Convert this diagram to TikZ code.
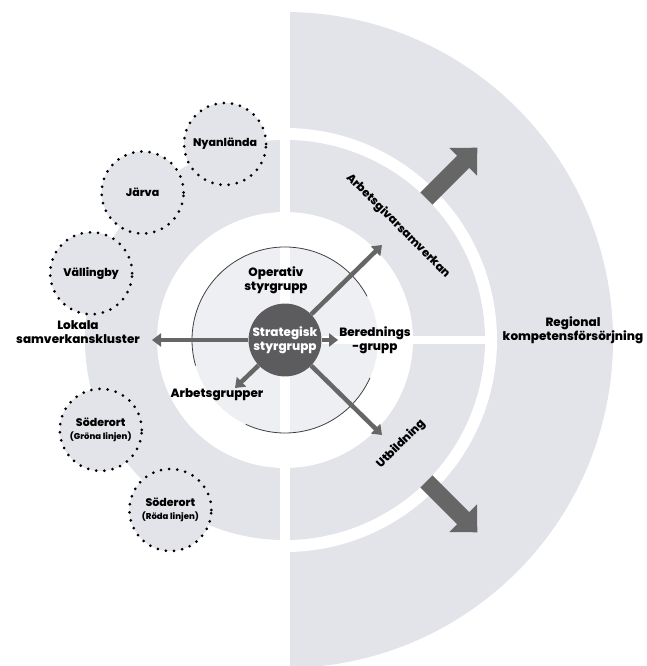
\documentclass[tikz,border=0pt]{standalone}
\usepackage{fontspec}
\setmainfont{Poppins}[BoldFont={Poppins ExtraBold}]
\usetikzlibrary{arrows.meta}
\definecolor{ringgrey}{RGB}{226,228,233}
\definecolor{arrowgrey}{RGB}{102,102,102}
\definecolor{coregrey}{RGB}{92,92,94}

\begin{document}
\begin{tikzpicture}[x=1pt, y=1pt,
	lbl/.style={font=\bfseries\fontsize{12}{14}\selectfont, align=center, inner sep=1pt},
	ringlbl/.style={font=\bfseries\fontsize{11.5}{13}\selectfont, inner sep=0pt},
	cluster/.style={circle, minimum size=82pt, inner sep=0pt, fill=ringgrey, draw=black, line width=3pt, dash pattern=on 0pt off 8.2pt, line cap=round, font=\bfseries\fontsize{11}{12.5}\selectfont, align=center},
	arcline/.style={draw=black!75, line width=0.8pt},
	thinarrow/.style={arrowgrey, line width=4.5pt, -{Triangle[width=13pt, length=9pt]}},
	bigarrow/.style={arrowgrey, line width=17pt, -{Triangle[width=38pt, length=20pt]}}]
	\useasboundingbox (0,0) rectangle (647,666);
	\coordinate (O) at (285,326);
	\fill[ringgrey] (285,654) arc[start angle=90, end angle=-90, radius=328] -- cycle;
	\fill[white] (O) circle[radius=212];
	\fill[ringgrey] (O) circle[radius=200];
	\fill[white] (O) circle[radius=128];
	\fill[ringgrey!60] (O) circle[radius=93];
	\fill[white] (280,0) rectangle (290,666);
	\fill[white] (290,322) rectangle (490,330);
	\draw[arcline] ([shift={(28:93)}]O) arc[start angle=28, end angle=196, radius=93];
	\draw[arcline] ([shift={(245:93)}]O) arc[start angle=245, end angle=336, radius=93];
	\node[lbl, circle, fill=coregrey, minimum size=70pt, text=white] (strat) at (O) {Strategisk\\styrgrupp};
	\node[lbl] (oper) at (276,386) {Operativ\\styrgrupp};
	\node[lbl] (bered) at (375,326) {Berednings\\-grupp};
	\node[lbl] (arbgr) at (217,271) {Arbetsgrupper};
	\node[lbl] (lokala) at (78,334) {Lokala\\samverkanskluster};
	\node[lbl] (regional) at (573,336) {Regional\\kompetensförsörjning};
	\node[ringlbl, rotate=-45] (arbsam) at (398,440) {Arbetsgivarsamverkan};
	\node[ringlbl, rotate=45] (utb) at (401,222) {Utbildning};
	\node[cluster] (nyanl) at ([shift={(107:205)}]O) {Nyanlända};
	\node[cluster] (jarva) at ([shift={(134:205)}]O) {Järva};
	\node[cluster] (vallby) at ([shift={(161:205)}]O) {Vällingby};
	\node[cluster] (sodgron) at ([shift={(206:205)}]O) {Söderort\\{\fontsize{8.5}{10}\selectfont(Gröna linjen)}};
	\node[cluster] (sodrod) at ([shift={(236:205)}]O) {Söderort\\{\fontsize{8.5}{10}\selectfont(Röda linjen)}};
	\coordinate (lokalatip) at (152,326);
	\coordinate (armtip) at (382,421);
	\coordinate (utbtip) at (382,231);
	\coordinate (grptip) at (235,278);
	\draw[thinarrow] (strat) -- (lokalatip);
	\draw[thinarrow] (strat.east) -- (bered.west);
	\draw[thinarrow] (strat) -- (armtip);
	\draw[thinarrow] (strat) -- (utbtip);
	\draw[thinarrow] (strat) -- (grptip);
	\coordinate (armfrom) at ([shift={(45:200)}]O);
	\coordinate (armto) at ([shift={(45:272)}]O);
	\coordinate (utbfrom) at ([shift={(-45:200)}]O);
	\coordinate (utbto) at ([shift={(-45:272)}]O);
	\draw[bigarrow] (armfrom) -- (armto);
	\draw[bigarrow] (utbfrom) -- (utbto);
\end{tikzpicture}
\end{document}
